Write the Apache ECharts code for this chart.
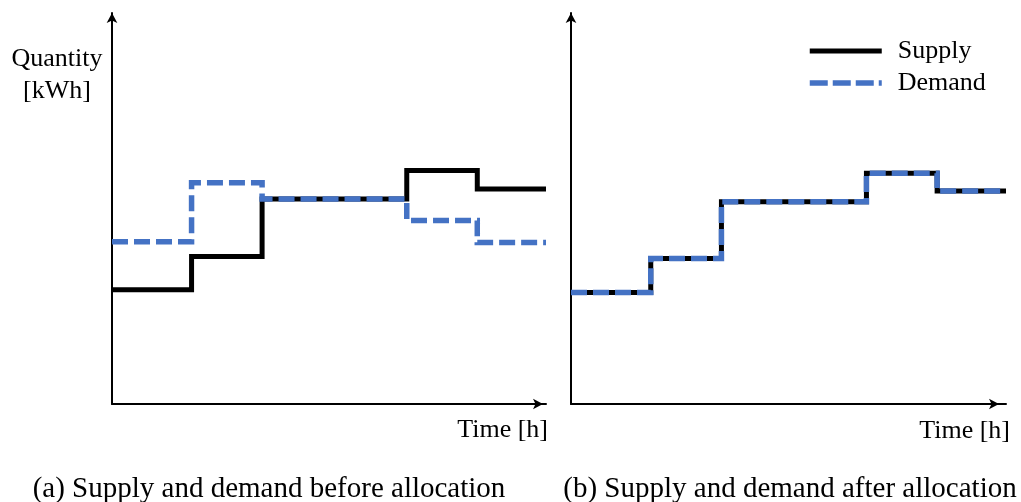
<!DOCTYPE html>
<html>
<head>
<meta charset="utf-8">
<title>Supply and demand before and after allocation</title>
<script src="https://cdn.jsdelivr.net/npm/echarts@6/dist/echarts.min.js"></script>
<style>
  html, body { margin: 0; padding: 0; background: #ffffff; }
  #chart { width: 1021px; height: 502px; }
</style>
</head>
<body>
<div id="chart"></div>
<script>
// Hour at which each interval starts (last entry closes the final interval)
const hours = [0, 4.4, 8.3, 16.3, 20.2, 24];

// Energy per interval [kWh], before allocation
const supplyBefore = [29.2, 37.7, 52.4, 59.7, 55.0];
const demandBefore = [41.5, 56.6, 52.4, 46.9, 41.3];

// After allocation demand is matched to supply in every interval
const supplyAfter = [28.5, 37.2, 51.7, 59.0, 54.5];
const demandAfter = [28.5, 37.2, 51.7, 59.0, 54.5];

const seriesNames = ['Supply', 'Demand'];
const captions = [
  '(a) Supply and demand before allocation',
  '(b) Supply and demand after allocation'
];
const axisNames = { x: 'Time [h]', y: 'Quantity\n[kWh]' };

const SERIF = '"Liberation Serif", "DejaVu Serif", serif';
const BLUE = '#4472C4';
const CLEAR = 'rgba(0,0,0,0)';

// Pair every interval start with its value; the closing hour repeats the last value
function steps(values) {
  return hours.map((h, i) => [h, values[Math.min(i, values.length - 1)]]);
}

function axisPair(gridIndex, arrowShift) {
  const common = {
    gridIndex: gridIndex,
    type: 'value',
    min: 0,
    axisTick: { show: false },
    axisLabel: { show: false },
    splitLine: { show: false }
  };
  return {
    x: Object.assign({}, common, {
      max: 24,
      axisLine: {
        show: true, onZero: false,
        symbol: ['none', 'arrow'], symbolSize: [8, 10], symbolOffset: [0, arrowShift],
        lineStyle: { color: '#000', width: 2 }
      }
    }),
    y: Object.assign({}, common, {
      max: 100,
      axisLine: {
        show: true, onZero: false,
        symbol: ['none', 'arrow'], symbolSize: [8, 10],
        lineStyle: { color: '#000', width: 2 }
      }
    })
  };
}

function supplySeries(values, idx) {
  return {
    name: seriesNames[0], type: 'line', step: 'end',
    xAxisIndex: idx, yAxisIndex: idx,
    data: steps(values), symbol: 'none', silent: true,
    lineStyle: { color: '#000', width: 5, cap: 'butt', join: 'miter' },
    itemStyle: { color: '#000' }
  };
}

function demandSeries(values, idx) {
  return {
    name: seriesNames[1], type: 'line', step: 'end',
    xAxisIndex: idx, yAxisIndex: idx,
    data: steps(values), symbol: 'none', silent: true,
    lineStyle: { color: BLUE, width: 5.5, type: [16, 6], cap: 'butt', join: 'miter' },
    itemStyle: { color: BLUE }
  };
}

const left = axisPair(0, -3);
const right = axisPair(1, -7);

function label(text, x, y, align, size) {
  return {
    type: 'text', x: x, y: y, silent: true,
    style: {
      text: text, fill: '#000', fontFamily: SERIF, fontSize: size,
      lineHeight: 32, align: align, verticalAlign: 'middle'
    }
  };
}

const option = {
  animation: false,
  backgroundColor: '#ffffff',
  grid: [
    { left: 112, right: 475, top: 13, bottom: 98 },
    { left: 571, right: 15, top: 13, bottom: 98 }
  ],
  xAxis: [left.x, right.x],
  yAxis: [left.y, right.y],
  legend: {
    orient: 'vertical',
    left: 807, top: 38, padding: 0,
    itemWidth: 72, itemHeight: 26, itemGap: 6,
    selectedMode: false,
    lineStyle: { width: 'inherit' },
    itemStyle: { color: CLEAR, borderColor: CLEAR, borderWidth: 0, opacity: 0 },
    textStyle: { fontFamily: SERIF, fontSize: 26, lineHeight: 26, color: '#000', padding: [0, 0, 0, 11] },
    data: [
      { name: seriesNames[0] },
      { name: seriesNames[1], lineStyle: { type: [18, 5] } }
    ]
  },
  series: [
    supplySeries(supplyBefore, 0),
    demandSeries(demandBefore, 0),
    supplySeries(supplyAfter, 1),
    demandSeries(demandAfter, 1)
  ],
  graphic: [
    label(axisNames.y, 57, 75, 'center', 26),
    label(axisNames.x, 548, 430, 'right', 26),
    label(axisNames.x, 1010, 431, 'right', 26),
    label(captions[0], 269, 489, 'center', 29),
    label(captions[1], 790, 489, 'center', 29)
  ]
};

const chart = echarts.init(document.getElementById('chart'), null, { renderer: 'canvas' });
chart.setOption(option);
</script>
</body>
</html>
